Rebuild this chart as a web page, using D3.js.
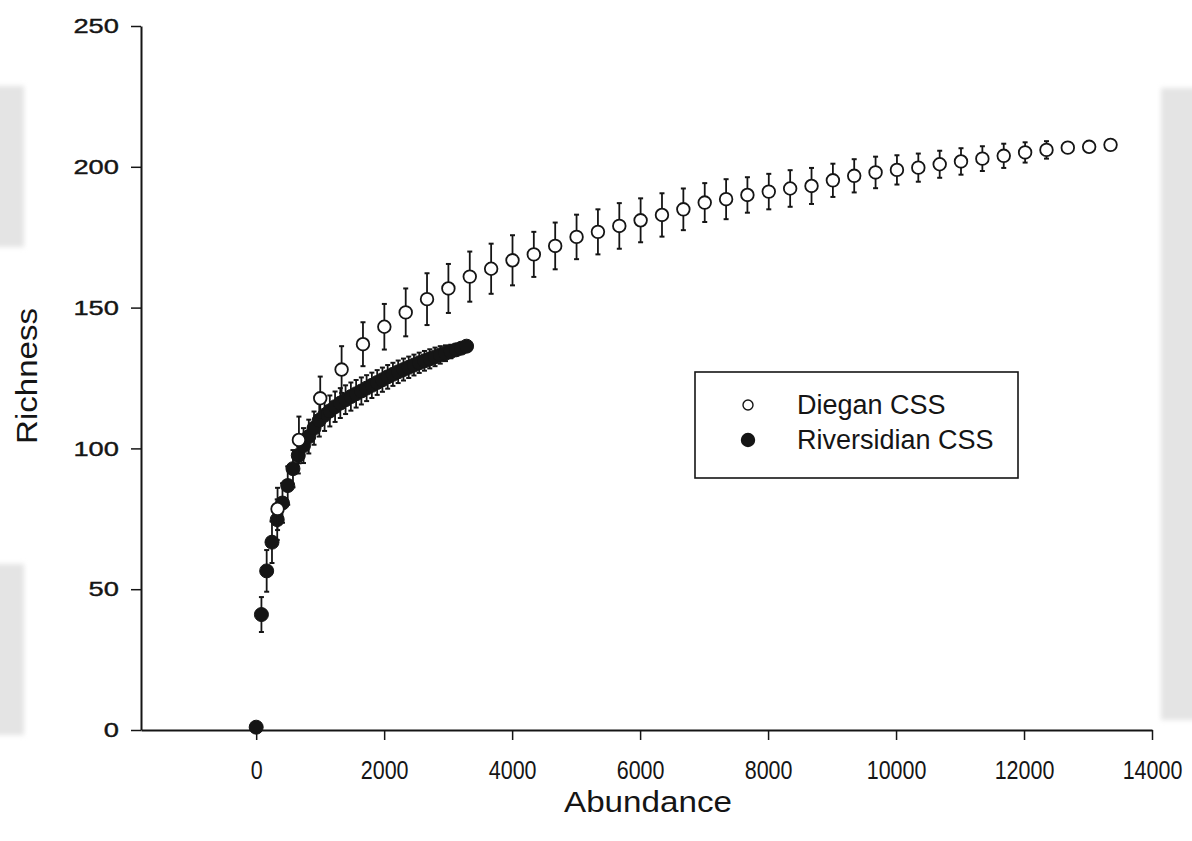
<!DOCTYPE html>
<html>
<head>
<meta charset="utf-8">
<script src="https://cdn.jsdelivr.net/npm/d3@7"></script>
<style>
  body { margin: 0; background: #fff; }
  svg { display: block; }
</style>
</head>
<body>
<div id="MapDiv"></div>
<script>
// Diegan CSS (open circles)
var diegAbund = [334, 668, 1001, 1335, 1669, 2003, 2337, 2670, 3004, 3338,
    3672, 4006, 4339, 4673, 5007, 5341, 5675, 6008, 6342, 6676,
    7010, 7344, 7677, 8011, 8345, 8679, 9013, 9346, 9680, 10014,
    10348, 10682, 11015, 11349, 11683, 12017, 12351, 12684, 13018, 13352];
var diegRich = [78.5, 103, 117.8, 128, 137, 143.2, 148.3, 153, 156.8, 161,
    163.8, 166.8, 168.9, 171.9, 175.1, 176.9, 179.0, 181.0, 182.9, 184.9,
    187.3, 188.5, 190.0, 191.2, 192.3, 193.2, 195.2, 196.8, 198.0, 198.9,
    199.7, 200.9, 201.9, 202.9, 203.9, 205.1, 206.0, 206.8, 207.1, 207.8];
var diegErr = [7.5, 8.3, 7.7, 8.3, 7.8, 8.1, 8.5, 9.2, 8.7, 8.9,
    8.9, 8.9, 8.0, 8.3, 7.9, 8.0, 8.1, 7.8, 7.7, 7.4,
    6.9, 7.1, 6.3, 6.3, 6.5, 6.4, 5.9, 5.9, 5.6, 5.2,
    5.0, 4.8, 4.7, 4.4, 4.3, 3.6, 3.1, 1.5, 1.0, 0.5];

// Riversidian CSS (filled circles)
var riverAbund = [0, 82, 164, 247, 329, 411, 493, 575, 658, 740,
    822, 904, 986, 1069, 1151, 1233, 1315, 1397, 1480, 1562,
    1644, 1726, 1808, 1891, 1973, 2055, 2137, 2219, 2302, 2384,
    2466, 2548, 2630, 2713, 2795, 2877, 2959, 3041, 3124, 3206, 3288];
var riverRich = [1, 41, 56.5, 66.7, 74.7, 80.6, 86.8, 92.8, 97.5, 101,
    104.2, 107.2, 110, 111.8, 113.3, 114.8, 116.1, 117.3, 118.4, 119.4,
    120.4, 121.4, 122.4, 123.4, 124.4, 125.4, 126.3, 127.2, 128.0, 128.8,
    129.6, 130.4, 131.1, 131.8, 132.5, 133.2, 133.8, 134.4, 135.0, 135.6, 136.3];
var riverErr = [0, 6.2, 7.4, 7.4, 7.2, 7.0, 6.8, 6.6, 6.4, 6.2,
    6.0, 5.9, 5.8, 5.6, 5.5, 5.4, 5.3, 5.1, 5.0, 4.9,
    4.8, 4.6, 4.5, 4.4, 4.3, 4.2, 4.1, 4.0, 3.9, 3.8,
    3.7, 3.6, 3.5, 3.4, 3.3, 3.1, 2.8, 2.4, 2.0, 1.4, 0.6];

var xTicks = [0, 2000, 4000, 6000, 8000, 10000, 12000, 14000];
var yTicks = [0, 50, 100, 150, 200, 250];
var seriesNames = ['Diegan CSS', 'Riversidian CSS'];

var W = 1192, H = 841;
var ink = '#151515';
var font = '"Liberation Sans", Arial, sans-serif';

var svg = d3.select('#MapDiv').append('svg')
    .attr('width', W)
    .attr('height', H);

// soft edge for the scanned page shading
svg.append('defs').append('filter').attr('id', 'soft')
    .append('feGaussianBlur').attr('stdDeviation', 2.5);

// scanned page shading at the edges
var shade = [[-10, 86, 34, 161], [-10, 564, 34, 171], [1161, 88, 40, 632]];
shade.forEach(function (s) {
    svg.append('rect')
        .attr('x', s[0]).attr('y', s[1]).attr('width', s[2]).attr('height', s[3])
        .attr('fill', '#e4e4e4')
        .attr('filter', 'url(#soft)');
});

var x = d3.scaleLinear().domain([-1800, 14000]).range([141, 1152]);
var y = d3.scaleLinear().domain([0, 250]).range([730, 26]);

// x axis
var gx = svg.append('g')
    .attr('transform', 'translate(0,' + y(0) + ')')
    .call(d3.axisBottom(x).tickValues(xTicks).tickSize(10).tickSizeOuter(0).tickFormat(d3.format('d')));
gx.select('.domain').attr('stroke', ink).attr('stroke-width', 2);
gx.selectAll('.tick line').attr('stroke', ink).attr('stroke-width', 1.5);
gx.selectAll('.tick text')
    .attr('y', 31)
    .attr('transform', 'scale(0.86,1)')
    .style('font-family', font)
    .style('font-size', '25px')
    .attr('fill', ink);

// y axis
var gy = svg.append('g')
    .attr('transform', 'translate(' + x(-1800) + ',0)')
    .call(d3.axisLeft(y).tickValues(yTicks).tickSize(10).tickSizeOuter(0));
gy.select('.domain').attr('stroke', ink).attr('stroke-width', 2);
gy.selectAll('.tick line').attr('stroke', ink).attr('stroke-width', 1.5);
gy.selectAll('.tick text')
    .attr('x', -17)
    .attr('transform', 'scale(1.3,1)')
    .style('font-family', font)
    .style('font-size', '21px')
    .style('stroke', ink).style('stroke-width', 0.4)
    .attr('fill', ink);

// axis titles
svg.append('text')
    .attr('x', 648).attr('y', 812)
    .attr('text-anchor', 'middle')
    .attr('textLength', 168).attr('lengthAdjust', 'spacingAndGlyphs')
    .style('font-family', font)
    .style('font-size', '30px')
    .attr('fill', ink)
    .text('Abundance');

svg.append('text')
    .attr('transform', 'translate(37,376) rotate(-90)')
    .attr('text-anchor', 'middle')
    .attr('textLength', 136).attr('lengthAdjust', 'spacingAndGlyphs')
    .style('font-family', font)
    .style('font-size', '29px')
    .attr('fill', ink)
    .text('Richness');

// error bars + points
function drawSeries(ab, ri, er, filled, r) {
    var g = svg.append('g');
    ab.forEach(function (a, i) {
        var cx = x(a), top = y(ri[i] + er[i]), bot = y(ri[i] - er[i]);
        g.append('line')
            .attr('x1', cx).attr('x2', cx).attr('y1', top).attr('y2', bot)
            .attr('stroke', ink).attr('stroke-width', 1.8);
        [top, bot].forEach(function (yy) {
            g.append('line')
                .attr('x1', cx - 2.5).attr('x2', cx + 2.5).attr('y1', yy).attr('y2', yy)
                .attr('stroke', ink).attr('stroke-width', 2);
        });
    });
    g.selectAll('circle').data(ab).enter().append('circle')
        .attr('cx', function (d) { return x(d); })
        .attr('cy', function (d, i) { return y(ri[i]); })
        .attr('r', r)
        .attr('fill', filled ? ink : '#fff')
        .attr('stroke', ink)
        .attr('stroke-width', filled ? 1 : 1.8);
}

drawSeries(riverAbund, riverRich, riverErr, true, 7);
drawSeries(diegAbund, diegRich, diegErr, false, 6.3);

// legend
var lg = svg.append('g');
lg.append('rect')
    .attr('x', 695).attr('y', 372).attr('width', 323).attr('height', 106)
    .attr('fill', '#fff').attr('stroke', ink).attr('stroke-width', 1.6);
seriesNames.forEach(function (n, i) {
    var ly = 405 + i * 35;
    lg.append('circle')
        .attr('cx', 748).attr('cy', ly)
        .attr('r', i == 0 ? 5 : 6.5)
        .attr('fill', i == 0 ? '#fff' : ink)
        .attr('stroke', ink).attr('stroke-width', 1.4);
    lg.append('text')
        .attr('x', 797).attr('y', ly + 9)
        .style('font-family', font)
        .style('font-size', '27px')
        .attr('fill', ink)
        .text(n);
});
</script>
</body>
</html>
